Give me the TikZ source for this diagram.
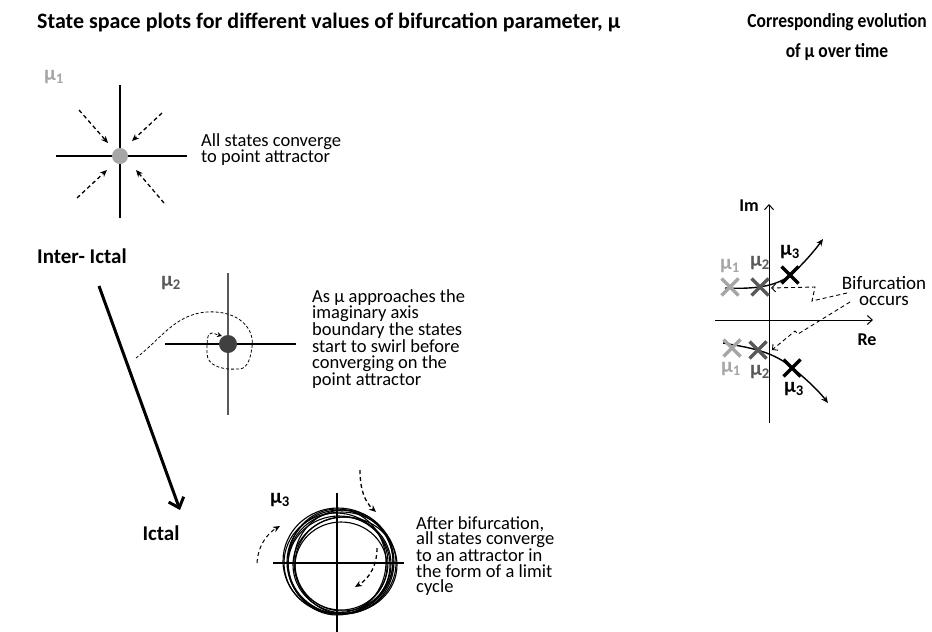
\documentclass[tikz,border=0pt]{standalone}
\usepackage{fontspec}
\setmainfont{Carlito}
\usetikzlibrary{arrows.meta}
\definecolor{mulight}{HTML}{A6A6A6}
\definecolor{mudark}{HTML}{595959}
\definecolor{dotdark}{HTML}{404040}
\begin{document}
\begin{tikzpicture}[x=1pt,y=-1pt,
  ttl/.style={font=\fontsize{22}{30}\selectfont\bfseries, inner sep=0},
  ttlr/.style={font=\fontsize{20}{30}\selectfont\bfseries, inner sep=0},
  body/.style={font=\fontsize{18.5}{15.6}\selectfont, align=left, anchor=north west, inner sep=0},
  mulab/.style={font=\fontsize{21}{21}\selectfont\bfseries, inner sep=0},
  axlab/.style={font=\fontsize{18}{18}\selectfont\bfseries, inner sep=0},
  axisline/.style={line width=1.2pt},
  conv/.style={dashed, dash pattern=on 4pt off 3pt, line width=1.3pt, -{Stealth[length=7pt,width=6pt]}},
  swirl/.style={dashed, dash pattern=on 3pt off 2pt, line width=0.8pt},
  cyc/.style={line width=1.1pt},
  root/.style={line width=1.4pt, -{Stealth[length=7pt,width=6pt]}},
  hint/.style={dashed, dash pattern=on 4pt off 3pt, line width=0.9pt, -{Straight Barb[length=4pt,width=8pt]}},
  xmark/.pic={\draw[line width=3.4pt] (-8.5,-8.5) -- (8.5,8.5) (-8.5,8.5) -- (8.5,-8.5);}
]
\useasboundingbox (0,0) rectangle (932,632);

% titles
\node[ttl, anchor=west] (title) at (37,22) {State space plots for different values of bifurcation parameter, μ};
\node[ttlr, anchor=north, align=center] (title2) at (837,13) {\scalebox{0.875}[1]{Corresponding evolution}\\\scalebox{0.875}[1]{of μ over time}};

% panel 1
\node[mulab, text=mulight] (mu1) at (54,77) {μ\textsubscript{1}};
\draw[axisline] (56,156) -- (187,156);
\draw[axisline] (120,85) -- (120,218);
\node[circle, fill=mulight, minimum size=16pt, inner sep=0] (p1) at (120,156) {};
\draw[conv] (79,110) -- (108,143);
\draw[conv] (162,113) -- (132,141);
\draw[conv] (77,198) -- (107,170);
\draw[conv] (164,203) -- (136,170);
\node[body] (t1) at (201,133) {All states converge\\to point attractor};

\node[ttl, font=\fontsize{21}{21}\selectfont\bfseries, anchor=west] (inter) at (37,256) {Inter- Ictal};

% panel 2
\node[mulab, text=mudark] (mu2) at (171,283) {μ\textsubscript{2}};
\draw[axisline] (165,344) -- (296,344);
\draw[axisline, mudark] (228,273) -- (228,415);
\node[circle, fill=dotdark, minimum size=18pt, inner sep=0] (p2) at (228,344) {};
\draw[swirl, -{Stealth[length=5pt,width=5pt]}] (136,358) .. controls (160,340) and (175,314) .. (207,312)
  .. controls (240,310) and (255,330) .. (252,347)
  .. controls (250,362) and (246,370) .. (237,369)
  .. controls (220,370) and (207,365) .. (207,353)
  .. controls (207,340) and (207,333) .. (212,333) -- (222,336);
\node[body] (t2) at (312,289) {As μ approaches the\\imaginary axis\\boundary the states\\start to swirl before\\converging on the\\point attractor};

% big arrow
\coordinate (ia) at (99,286);
\node[ttl, font=\fontsize{21}{21}\selectfont\bfseries] (ictal) at (161,533) {Ictal};
\draw[line width=3pt, -{Straight Barb[length=9pt,width=16pt]}] (ia) -- (180,510);

% panel 3
\node[mulab] (mu3) at (280,500) {μ\textsubscript{3}};
\draw[axisline] (273,563) -- (404,563);
\draw[axisline] (337,493) -- (337,632);
\draw[cyc] (340,562) ellipse [x radius=53, y radius=52];
\draw[cyc] (338,561) ellipse [x radius=55, y radius=53];
\draw[cyc] (342,563) ellipse [x radius=54, y radius=51];
\draw[cyc] (336,563) ellipse [x radius=52, y radius=50];
\draw[cyc] (344,562) ellipse [x radius=50, y radius=52];
\draw[cyc] (339,565) ellipse [x radius=51, y radius=49];
\draw[cyc] (341,566) ellipse [x radius=46, y radius=44];
\draw[cyc] (343,564) ellipse [x radius=48, y radius=47];
\draw[cyc] (337,562) ellipse [x radius=49, y radius=53];
\draw[cyc] (345,565) ellipse [x radius=52, y radius=48];
\draw[conv] (360,470) .. controls (360,490) and (365,502) .. (376,512);
\draw[conv, line width=1pt] (257,563) .. controls (258,545) and (268,533) .. (280,526);
\draw[conv] (377,548) .. controls (377,565) and (370,578) .. (355,587);
\node[body] (t3) at (416,516) {After bifurcation,\\all states converge\\to an attractor in\\the form of a limit\\cycle};

% right panel
\draw[line width=1pt, -{Straight Barb[length=5pt,width=9pt]}] (769,423) -- (769,204);
\draw[line width=1pt, -{Straight Barb[length=5pt,width=9pt]}] (715,320) -- (873,320);
\node[axlab] (im) at (749,206) {Im};
\node[axlab] (re) at (867,340) {Re};
\draw[root] (725,288) .. controls (750,289) and (775,288) .. (792,274) .. controls (805,262) and (815,250) .. (823,239);
\draw[root] (723,343) .. controls (745,347) and (770,350) .. (790,366) .. controls (805,378) and (818,390) .. (828,403);
\pic[color=mulight] at (730,287) {xmark};
\pic[color=mudark] at (760,287) {xmark};
\pic[color=black] at (790,275) {xmark};
\pic[color=mulight] at (732,348) {xmark};
\pic[color=mudark] at (758,350) {xmark};
\pic[color=black] at (792,368) {xmark};
\node[mulab, text=mulight] (u1) at (730,266) {μ\textsubscript{1}};
\node[mulab, text=mudark] (u2) at (760,263) {μ\textsubscript{2}};
\node[mulab] (u3) at (790,252) {μ\textsubscript{3}};
\node[mulab, text=mulight] (l1) at (731,369) {μ\textsubscript{1}};
\node[mulab, text=mudark] (l2) at (760,372) {μ\textsubscript{2}};
\node[mulab] (l3) at (794,389) {μ\textsubscript{3}};
\node[font=\fontsize{19}{16.5}\selectfont, align=center, inner sep=0] (bif) at (884,291) {Bifurcation\\occurs};
\draw[hint] (847,293) -- (812,301) -- (815,287) -- (771,288);
\draw[hint] (850,302) -- (798,334) -- (795,331) -- (772,350);
\end{tikzpicture}
\end{document}
